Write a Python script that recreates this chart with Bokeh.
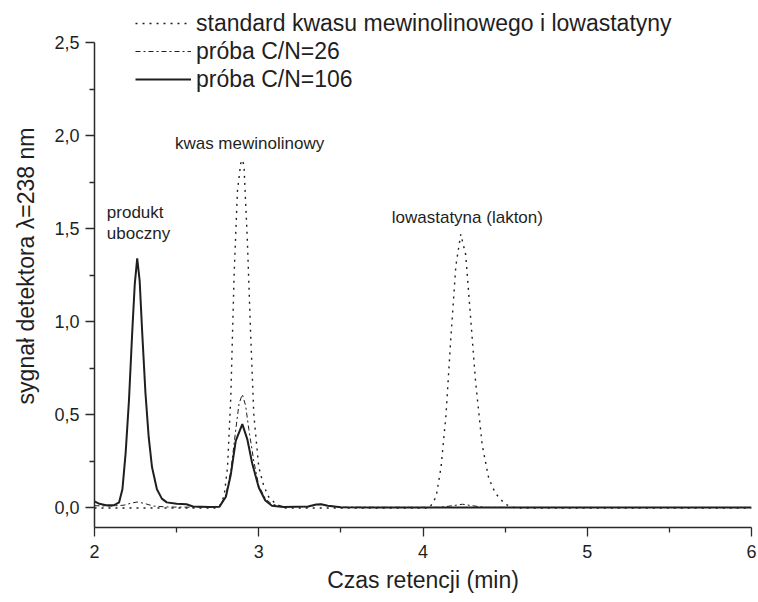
from bokeh.plotting import figure
from bokeh.models import Range1d, FixedTicker, Legend, LegendItem, Label
from bokeh.embed import file_html
from bokeh.resources import INLINE

# --- data (retention time in min, detector signal) ---
t_std = [2.00, 2.74, 2.77, 2.79, 2.81, 2.83, 2.85, 2.87, 2.89, 2.90, 2.91, 2.93, 2.95, 2.97,
         3.00, 3.03, 3.06, 3.10, 3.15, 4.04, 4.08, 4.11, 4.14, 4.17, 4.20, 4.23, 4.26, 4.29,
         4.32, 4.36, 4.40, 4.44, 4.50, 4.56, 6.00]
v_std = [0.0, 0.0, 0.02, 0.07, 0.22, 0.60, 1.25, 1.70, 1.85, 1.87, 1.84, 1.45, 0.95, 0.50,
         0.22, 0.12, 0.06, 0.025, 0.0, 0.0, 0.06, 0.22, 0.50, 0.92, 1.30, 1.47, 1.36, 1.02,
         0.68, 0.34, 0.16, 0.08, 0.02, 0.0, 0.0]

t_cn26 = [2.00, 2.10, 2.18, 2.22, 2.26, 2.30, 2.36, 2.45, 2.60, 2.76, 2.80, 2.83, 2.86, 2.88,
          2.90, 2.92, 2.94, 2.97, 3.00, 3.04, 3.08, 3.15, 3.30, 3.35, 3.38, 3.42, 3.50, 4.10,
          4.18, 4.24, 4.30, 4.38, 6.00]
v_cn26 = [0.012, 0.010, 0.015, 0.025, 0.032, 0.025, 0.010, 0.005, 0.004, 0.008, 0.07, 0.20,
          0.42, 0.56, 0.61, 0.55, 0.42, 0.25, 0.12, 0.05, 0.02, 0.008, 0.006, 0.016, 0.02,
          0.012, 0.004, 0.003, 0.012, 0.02, 0.012, 0.003, 0.002]

t_cn106 = [2.00, 2.03, 2.07, 2.12, 2.15, 2.17, 2.19, 2.21, 2.23, 2.245, 2.26, 2.275, 2.29,
           2.31, 2.33, 2.35, 2.38, 2.41, 2.44, 2.50, 2.56, 2.60, 2.70, 2.76, 2.80, 2.83, 2.86,
           2.90, 2.93, 2.96, 3.00, 3.04, 3.08, 3.15, 3.30, 3.35, 3.38, 3.42, 3.50, 3.70, 6.00]
v_cn106 = [0.035, 0.022, 0.015, 0.015, 0.03, 0.10, 0.30, 0.58, 0.95, 1.20, 1.34, 1.22, 0.95,
           0.62, 0.38, 0.22, 0.10, 0.05, 0.03, 0.022, 0.02, 0.008, 0.005, 0.006, 0.06, 0.18,
           0.36, 0.45, 0.37, 0.24, 0.11, 0.04, 0.012, 0.005, 0.008, 0.018, 0.02, 0.012, 0.004,
           0.002, 0.002]

series_names = ["standard kwasu mewinolinowego i lowastatyny", "próba C/N=26", "próba C/N=106"]

x_ticks = [2, 3, 4, 5, 6]
x_tick_labels = ["2", "3", "4", "5", "6"]
x_minor = [2.5, 3.5, 4.5, 5.5]
y_ticks = [0.0, 0.5, 1.0, 1.5, 2.0, 2.5]
y_tick_labels = ["0,0", "0,5", "1,0", "1,5", "2,0", "2,5"]
y_minor = [0.25, 0.75, 1.25, 1.75, 2.25]
y_axis_top = 2.5

peak_labels = ["kwas mewinolinowy", "produkt", "uboczny", "lowastatyna (lakton)"]
peak_label_x = [2.944, 2.075, 2.075, 4.27]
peak_label_y = [1.957, 1.586, 1.473, 1.56]
peak_label_align = ["center", "left", "left", "center"]

FONT = "Liberation Sans"
INK = "#1f1f1f"

# frame spans the full top area so the legend (which sits above the 2,5 tick) is not clipped;
# the y axis line itself is bounded to stop at 2,5 like the reference
p = figure(width=758, height=602, output_backend="svg", toolbar_location=None,
           x_range=Range1d(2, 6), y_range=Range1d(-0.105, 2.704),
           min_border_left=94, min_border_right=7, min_border_top=4, min_border_bottom=75,
           background_fill_color="white", border_fill_color="white")
p.outline_line_color = None
p.xgrid.visible = False
p.ygrid.visible = False

r_std = p.line(t_std, v_std, line_color=INK, line_width=1.4, line_dash="2 5")
r_26 = p.line(t_cn26, v_cn26, line_color=INK, line_width=1.0, line_dash="5 3 2 3")
r_106 = p.line(t_cn106, v_cn106, line_color=INK, line_width=2.0)

for ax, ticks, minor, labels in ((p.xaxis[0], x_ticks, x_minor, x_tick_labels),
                                 (p.yaxis[0], y_ticks, y_minor, y_tick_labels)):
    ax.ticker = FixedTicker(ticks=ticks, minor_ticks=minor)
    ax.major_label_overrides = {float(t): l for t, l in zip(ticks, labels)}
    ax.axis_line_color = "#2a2a2a"
    ax.axis_line_width = 1.5
    ax.major_tick_line_color = "#2a2a2a"
    ax.minor_tick_line_color = "#2a2a2a"
    ax.major_tick_line_width = 1.3
    ax.minor_tick_line_width = 1.3
    ax.major_tick_out = 9
    ax.major_tick_in = 0
    ax.minor_tick_out = 5
    ax.minor_tick_in = 0
    ax.major_label_text_font = FONT
    ax.major_label_text_font_size = "18px"
    ax.major_label_text_color = INK
    ax.axis_label_text_font = FONT
    ax.axis_label_text_font_size = "23px"
    ax.axis_label_text_font_style = "normal"
    ax.axis_label_text_color = INK

p.yaxis[0].bounds = (-0.105, y_axis_top)
p.xaxis[0].axis_label = "Czas retencji (min)"
p.yaxis[0].axis_label = "sygnał detektora λ=238 nm"
p.xaxis[0].major_label_standoff = 8
p.yaxis[0].major_label_standoff = 6
p.xaxis[0].axis_label_standoff = 6
p.yaxis[0].axis_label_standoff = 12

for txt, lx, ly, al in zip(peak_labels, peak_label_x, peak_label_y, peak_label_align):
    p.add_layout(Label(x=lx, y=ly, text=txt, text_font=FONT, text_font_size="17px",
                       text_color=INK, text_align=al, text_baseline="middle"))

legend = Legend(items=[LegendItem(label=series_names[0], renderers=[r_std]),
                       LegendItem(label=series_names[1], renderers=[r_26]),
                       LegendItem(label=series_names[2], renderers=[r_106])],
                location=(41, 434), orientation="vertical",
                label_text_font=FONT, label_text_font_size="23px", label_text_color=INK,
                glyph_width=56, glyph_height=28, label_height=28, label_standoff=5,
                spacing=0, padding=0, margin=0,
                border_line_color=None, background_fill_alpha=0)
p.add_layout(legend)

open("out.html", "w").write(file_html(p, INLINE))
